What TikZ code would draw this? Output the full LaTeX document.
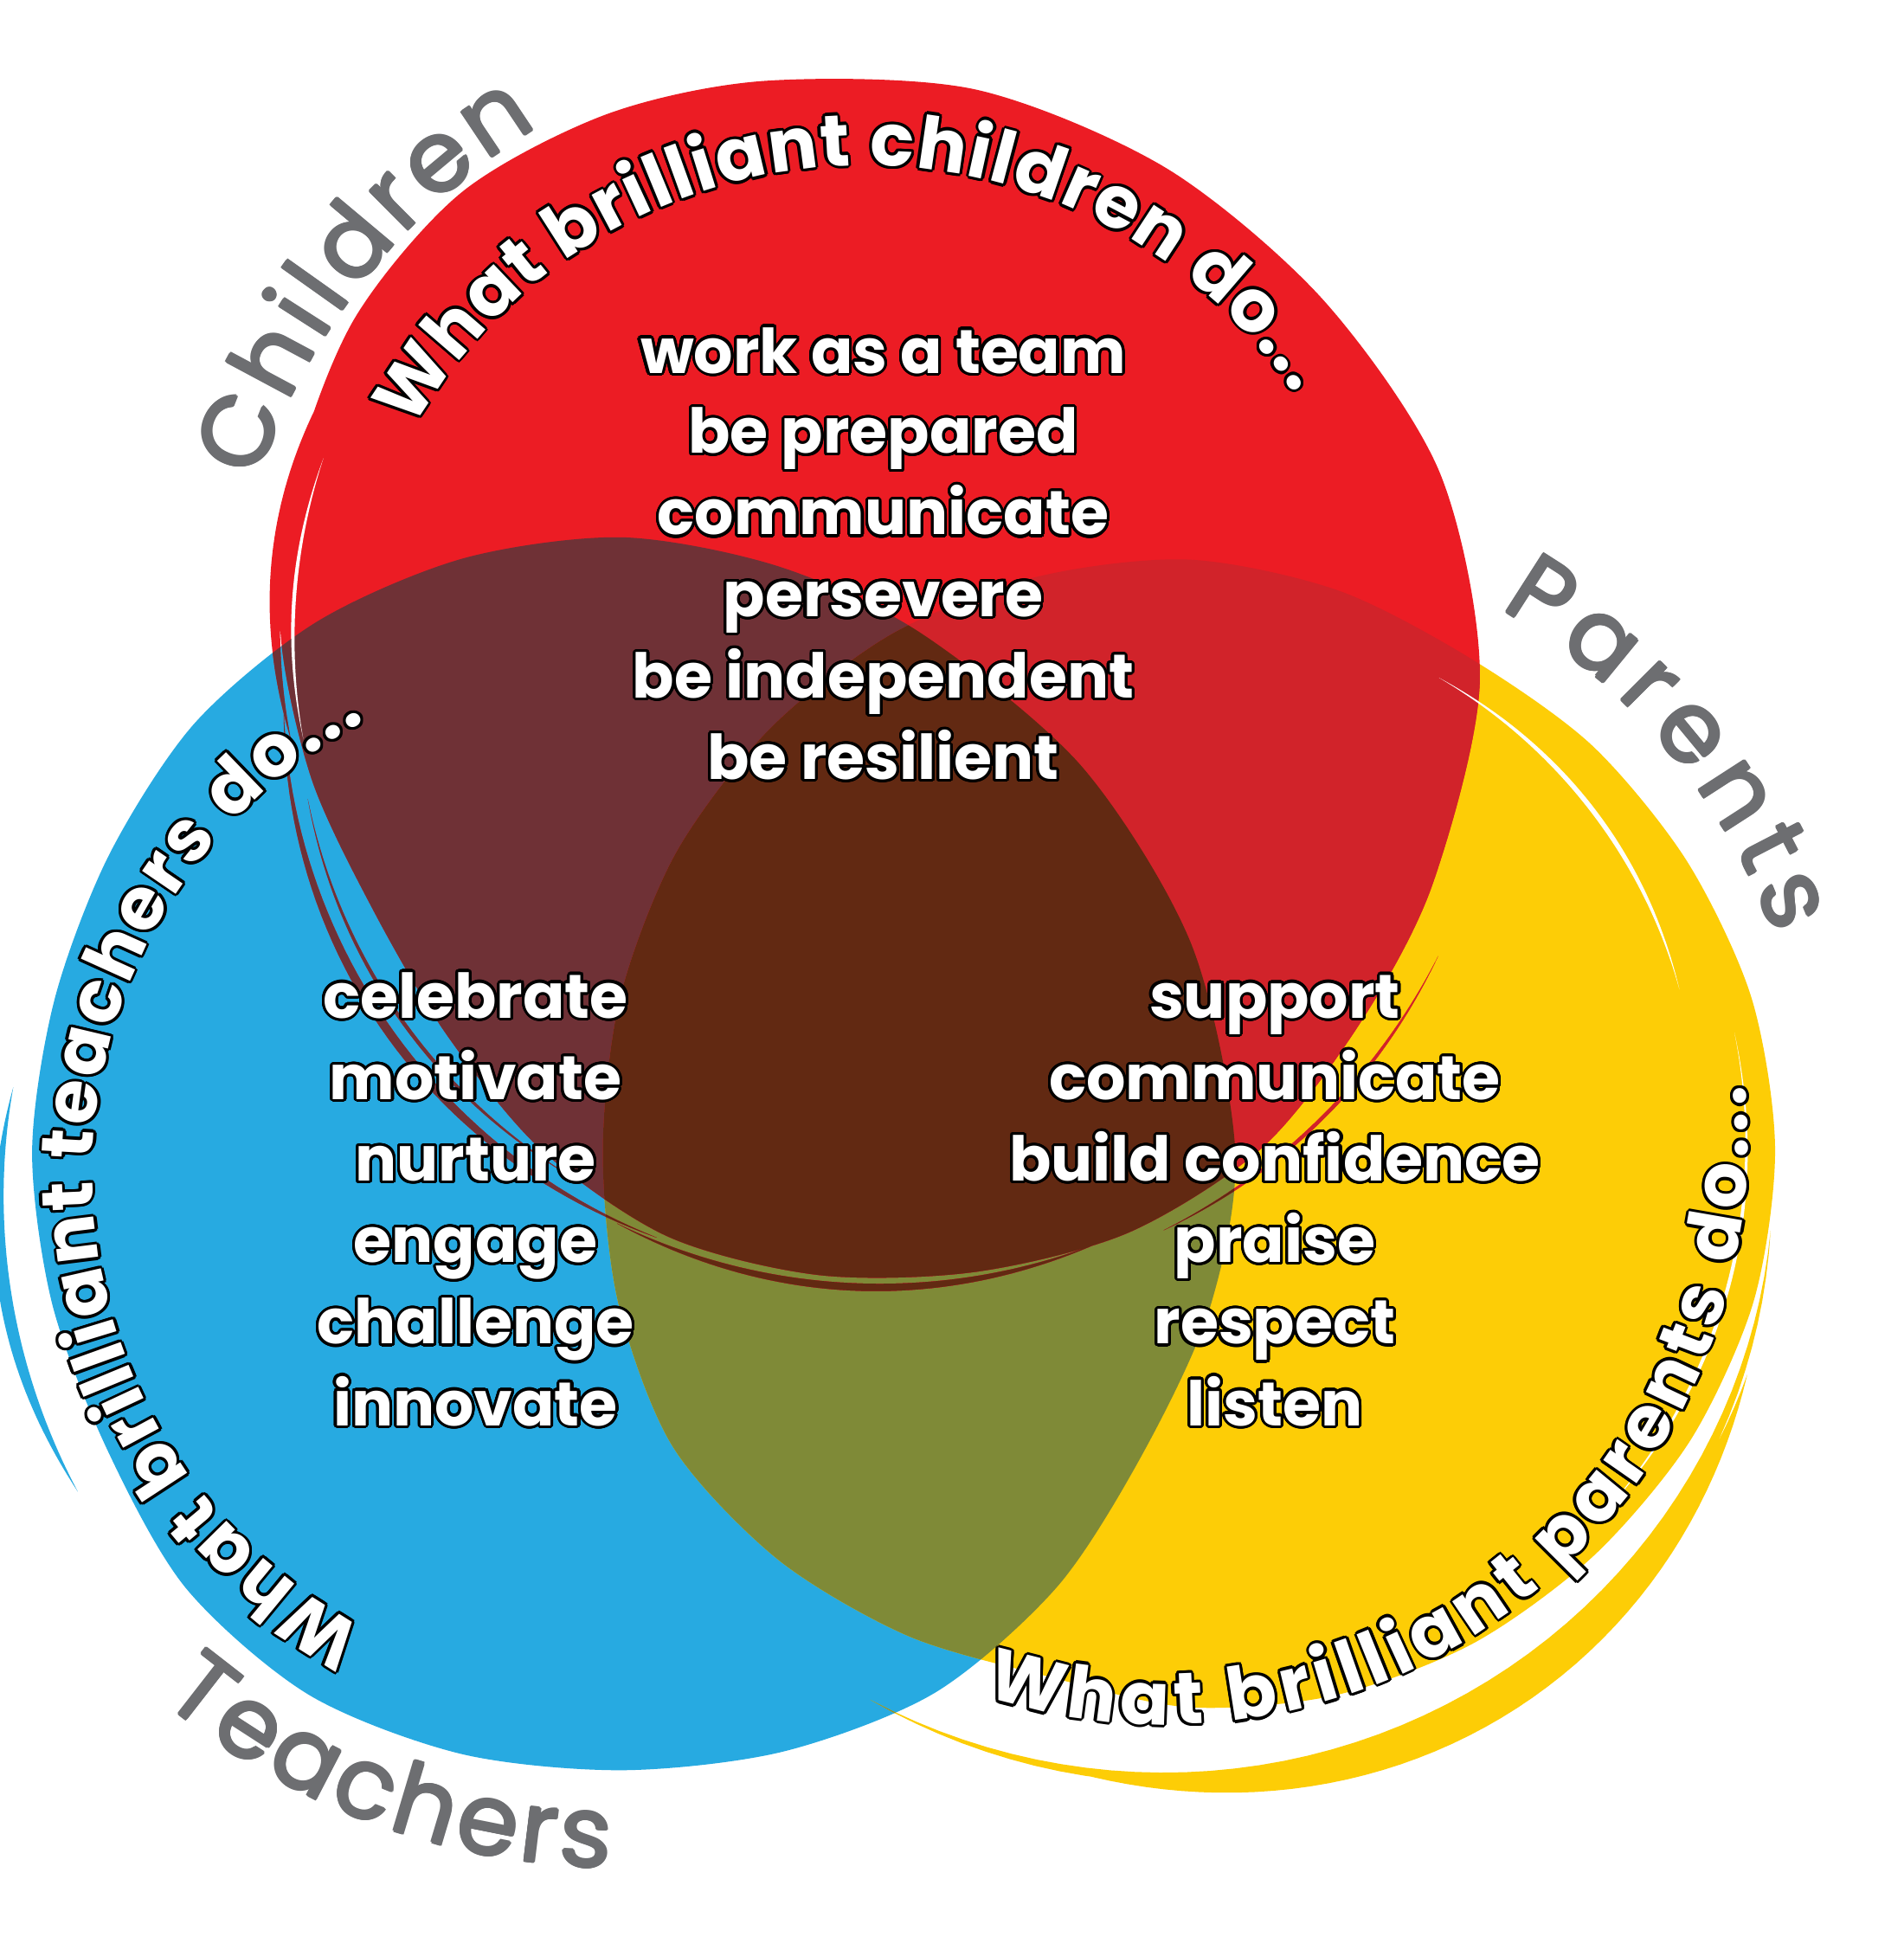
\documentclass[tikz,border=0pt]{standalone}
\usepackage{fontspec}
\setmainfont{Poppins}
\usepackage[copies]{contour}
\contourlength{2.2pt}
\contournumber{24}
\usetikzlibrary{decorations.text,calc}
\definecolor{cred}{HTML}{EC1C24}
\definecolor{cblue}{HTML}{27AAE1}
\definecolor{cyel}{HTML}{FDCD06}
\definecolor{cmaroon}{HTML}{6F3136}
\definecolor{cdred}{HTML}{D1232A}
\definecolor{colive}{HTML}{7F8A37}
\definecolor{cbrown}{HTML}{622912}
\definecolor{cgray}{HTML}{6D6E71}
\newcommand\stk[7]{plot[domain=#3:#4,samples=50,variable=\t] ({#1+(#5+(#6-#5)*((\t-#3)/(#4-#3))+#7*sin(((\t-#3)/(#4-#3))*180))*cos(\t)},{#2+(#5+(#6-#5)*((\t-#3)/(#4-#3))+#7*sin(((\t-#3)/(#4-#3))*180))*sin(\t)}) -- plot[domain=#4:#3,samples=50,variable=\t] ({#1+(#5+(#6-#5)*((\t-#3)/(#4-#3)))*cos(\t)},{#2+(#5+(#6-#5)*((\t-#3)/(#4-#3)))*sin(\t)}) -- cycle}
\def\redshape{plot[smooth cycle] coordinates {($(705,1018)+(0:493)$) ($(705,1018)+(20:490)$) ($(705,1018)+(40:478)$) ($(705,1018)+(60:478)$) ($(705,1018)+(80:485)$) ($(705,1018)+(100:492)$) ($(705,1018)+(115:505)$) ($(705,1018)+(130:515)$) ($(705,1018)+(145:510)$) ($(705,1018)+(160:495)$) ($(705,1018)+(175:480)$) ($(705,1018)+(190:460)$) ($(705,1018)+(205:444)$) ($(705,1018)+(220:448)$) ($(705,1018)+(235:465)$) ($(705,1018)+(250:480)$) ($(705,1018)+(265:484)$) ($(705,1018)+(280:487)$) ($(705,1018)+(295:494)$) ($(705,1018)+(310:494)$) ($(705,1018)+(325:484)$) ($(705,1018)+(340:484)$)}
 \stk{705}{1018}{183}{249}{476}{484}{7}
 \stk{705}{1018}{192}{240}{466}{470}{3}
 \stk{705}{1018}{298}{334}{505}{511}{3}
 \stk{705}{1018}{245}{292}{486}{492}{6}
 \stk{705}{1018}{148}{186}{500}{472}{10}}
\def\blueshape{plot[smooth cycle] coordinates {($(504,636)+(0:496)$) ($(504,636)+(20:490)$) ($(504,636)+(40:485)$) ($(504,636)+(60:484)$) ($(504,636)+(75:490)$) ($(504,636)+(90:497)$) ($(504,636)+(105:497)$) ($(504,636)+(120:495)$) ($(504,636)+(135:490)$) ($(504,636)+(150:480)$) ($(504,636)+(165:476)$) ($(504,636)+(180:478)$) ($(504,636)+(195:478)$) ($(504,636)+(210:482)$) ($(504,636)+(225:500)$) ($(504,636)+(240:508)$) ($(504,636)+(255:505)$) ($(504,636)+(270:501)$) ($(504,636)+(285:503)$) ($(504,636)+(300:506)$) ($(504,636)+(315:498)$) ($(504,636)+(330:487)$) ($(504,636)+(345:492)$)}
 \stk{504}{636}{174}{212}{496}{520}{10}}
\def\yellowshape{plot[smooth cycle] coordinates {($(962,638)+(0:475)$) ($(962,638)+(15:472)$) ($(962,638)+(30:466)$) ($(962,638)+(45:462)$) ($(962,638)+(60:458)$) ($(962,638)+(75:468)$) ($(962,638)+(90:477)$) ($(962,638)+(105:479)$) ($(962,638)+(120:481)$) ($(962,638)+(135:480)$) ($(962,638)+(150:479)$) ($(962,638)+(165:476)$) ($(962,638)+(180:474)$) ($(962,638)+(195:478)$) ($(962,638)+(210:482)$) ($(962,638)+(225:470)$) ($(962,638)+(240:455)$) ($(962,638)+(255:442)$) ($(962,638)+(270:452)$) ($(962,638)+(285:458)$) ($(962,638)+(300:462)$) ($(962,638)+(315:465)$) ($(962,638)+(330:470)$) ($(962,638)+(345:474)$)}
 \stk{962}{638}{240}{352}{515}{476}{12}
 \stk{962}{638}{258}{338}{512}{488}{26}}
\newcommand\ctfont{\fontsize{59}{59}\selectfont\bfseries}
\newcommand\glfont{\fontsize{80}{80}\selectfont}
\newcommand\arctext[2]{%
 \foreach \aa in {0,30,...,330}{%
  \path[shift={(\aa:2.3)},decorate,decoration={text along path,text color=black,text={|\ctfont|#2},text align={fit to path}}] #1;}%
 \path[decorate,decoration={text along path,text color=white,text={|\ctfont|#2},text align={fit to path}}] #1;}
\newcommand\graytext[2]{%
 \foreach \aa in {0,45,...,315}{%
  \path[shift={(\aa:1.1)},decorate,decoration={text along path,text color=cgray,text={|\glfont|#2},text align={fit to path}}] #1;}}
\tikzset{blk/.style={font=\fontsize{50}{50}\selectfont\bfseries,text=white,inner sep=0pt,anchor=base}}
\begin{document}
\begin{tikzpicture}[x=1pt,y=1pt]
\useasboundingbox (0,0) rectangle (1541,1568);
\fill[white] (0,0) rectangle (1541,1568);
% circles
\fill[cblue] \blueshape;
\fill[cyel] \yellowshape;
\begin{scope}\clip \blueshape; \fill[colive] \yellowshape;\end{scope}
\fill[cred] \redshape;
\begin{scope}\clip \redshape; \fill[cmaroon] \blueshape; \fill[cdred] \yellowshape; \clip \blueshape; \fill[cbrown] \yellowshape;\end{scope}
% white streaks
\fill[white] \stk{962}{638}{18}{62}{418}{432}{4};
\fill[white] \stk{962}{638}{318}{372}{447}{452}{3};
\fill[white] \stk{705}{1018}{158}{186}{478}{462}{3};
% gray labels
\graytext{($(705,1018)+(162:522)$) arc[start angle=162,end angle=121,radius=522]}{Children}
\graytext{($(962,638)+(60:505)$) arc[start angle=60,end angle=20,radius=505]}{Parents}
\graytext{($(504,636)+(230:580)$) arc[start angle=230,end angle=269,radius=580]}{Teachers}
% curved texts
\arctext{($(700,1014)+(150.5:420)$) arc[start angle=150.5,end angle=34,radius=420]}{What brilliant children do...}
\arctext{($(491,617)+(242:416)$) arc[start angle=242,end angle=118,radius=416]}{What brilliant teachers do...}
\arctext{($(943,644)+(252:472)$) arc[start angle=252,end angle=365.5,radius=472]}{What brilliant parents do...}
% children block
\node[blk] (c1) at (715,1266) {\contour{black}{work as a team}};
\node[blk] (c2) at (715,1201) {\contour{black}{be prepared}};
\node[blk] (c3) at (715,1135) {\contour{black}{communicate}};
\node[blk] (c4) at (715,1069) {\contour{black}{persevere}};
\node[blk] (c5) at (715,1003) {\contour{black}{be independent}};
\node[blk] (c6) at (715,937) {\contour{black}{be resilient}};
% teachers block
\node[blk] (t1) at (385,744) {\contour{black}{celebrate}};
\node[blk] (t2) at (385,678) {\contour{black}{motivate}};
\node[blk] (t3) at (385,612) {\contour{black}{nurture}};
\node[blk] (t4) at (385,546) {\contour{black}{engage}};
\node[blk] (t5) at (385,480) {\contour{black}{challenge}};
\node[blk] (t6) at (385,414) {\contour{black}{innovate}};
% parents block
\node[blk] (p1) at (1032,744) {\contour{black}{support}};
\node[blk] (p2) at (1032,678) {\contour{black}{communicate}};
\node[blk] (p3) at (1032,612) {\contour{black}{build confidence}};
\node[blk] (p4) at (1032,546) {\contour{black}{praise}};
\node[blk] (p5) at (1032,480) {\contour{black}{respect}};
\node[blk] (p6) at (1032,414) {\contour{black}{listen}};
\end{tikzpicture}
\end{document}
